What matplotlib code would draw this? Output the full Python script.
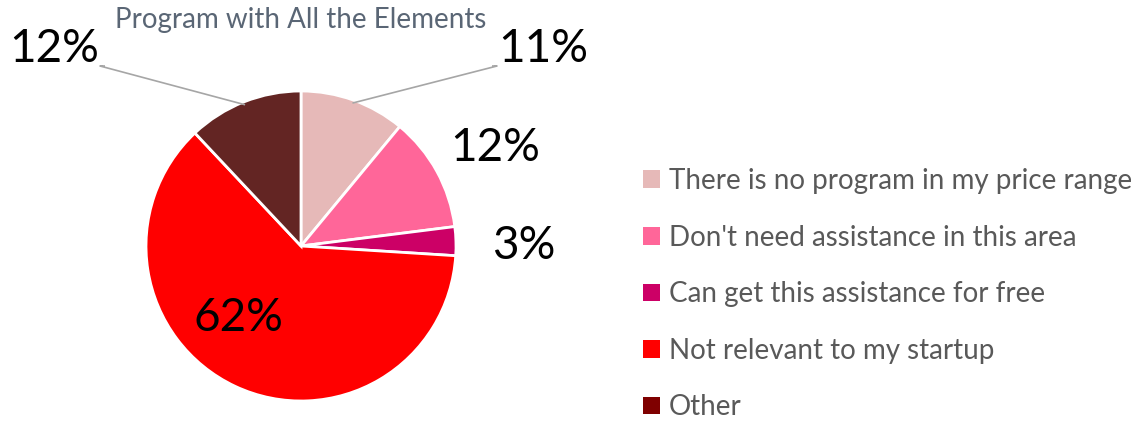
import numpy as np
import matplotlib.pyplot as plt
from matplotlib.patches import Rectangle

# Survey answers: why startups did not pick a program with all the elements
categories = [
    "There is no program in my price range",
    "Don't need assistance in this area",
    "Can get this assistance for free",
    "Not relevant to my startup",
    "Other",
]
shares = [11, 12, 3, 62, 12]
slice_colors = ["#E6B9B8", "#FF6699", "#CC0066", "#FF0000", "#632523"]
legend_colors = ["#E6B9B8", "#FF6699", "#CC0066", "#FF0000", "#7F0000"]
title = "Program with All the Elements"

W, H = 1131, 423
plt.rcParams["font.family"] = ["Lato", "DejaVu Sans"]

fig = plt.figure(figsize=(W / 100, H / 100), dpi=100)
ax = fig.add_axes([0, 0, 1, 1])

# work in pixel units, y measured upward
cx, cy, R = 301, H - 246, 155
wedges, _ = ax.pie(shares, colors=slice_colors, startangle=90, counterclock=False,
                   center=(cx, cy), radius=R,
                   wedgeprops=dict(edgecolor="white", linewidth=2))
ax.set_xlim(0, W)
ax.set_ylim(0, H)
ax.set_aspect("equal")
ax.axis("off")

# percentage labels (text position, leader line or not)
label_pos = [(543, H - 49), (495, H - 148), (524, H - 246), (238, H - 318), (54, H - 49)]
leader = [True, False, False, False, True]
for w, v, (tx, ty), has_line in zip(wedges, shares, label_pos, leader):
    ax.text(tx, ty, f"{v}%", fontsize=33, color="black", ha="center", va="center")
    if has_line:
        mid = np.deg2rad((w.theta1 + w.theta2) / 2)
        px, py = cx + 0.98 * R * np.cos(mid), cy + 0.98 * R * np.sin(mid)
        side = 1 if tx > cx else -1
        ex = tx - side * 46
        ax.plot([px, ex, ex - side * 5], [py, ty - 17, ty - 17],
                color="#A6A6A6", lw=1.2, solid_capstyle="butt")

ax.text(cx, H - 20, title, fontsize=20, color="#5A6675", ha="center", va="center")

handles = [Rectangle((0, 0), 1, 1, facecolor=c) for c in legend_colors]
ax.legend(handles, categories, loc="upper left", bbox_to_anchor=(643, H - 168),
          bbox_transform=ax.transData, frameon=False, fontsize=20,
          labelcolor="#595959", handlelength=0.6, handleheight=0.6,
          handletextpad=0.32, labelspacing=1.1, borderpad=0, borderaxespad=0)

fig.savefig("out.png", dpi=100)
